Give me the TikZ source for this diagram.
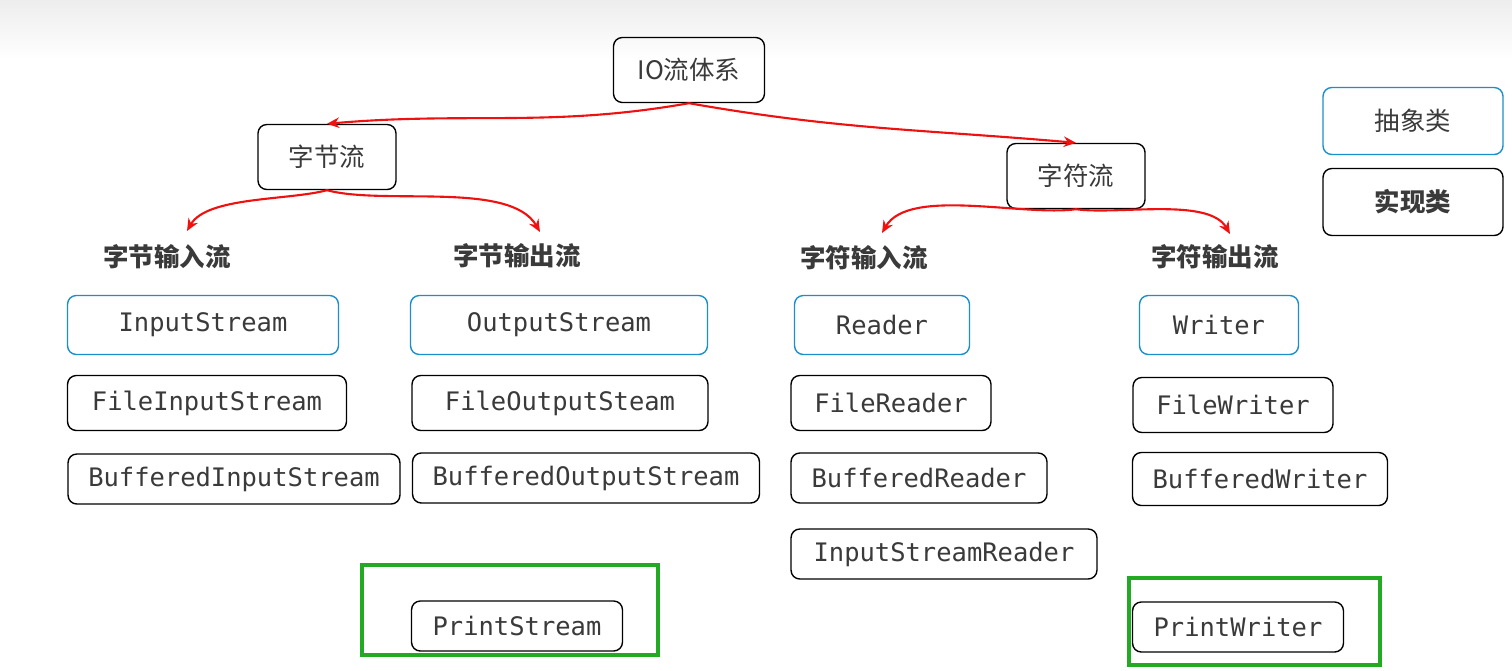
\documentclass[tikz,border=0pt]{standalone}
\usepackage{fontspec}
\setmainfont{Noto Sans CJK SC}
\setmonofont{DejaVu Sans Mono}
\usetikzlibrary{arrows.meta}
\definecolor{absblue}{HTML}{1A8FC9}
\definecolor{txtgray}{HTML}{3A3A3A}
\definecolor{arrred}{HTML}{F01010}
\definecolor{boxgreen}{HTML}{22AA22}
\tikzset{
  impl/.style={draw=black,thick,rounded corners=5pt,inner sep=0pt,text=txtgray,font=\ttfamily\fontsize{14.5}{16}\selectfont,minimum height=1.0cm},
  abs/.style={impl,draw=absblue,minimum height=1.18cm},
  head/.style={draw=black,thick,rounded corners=5pt,inner sep=0pt,text=txtgray,font=\fontsize{14.5}{16}\selectfont,minimum height=1.3cm},
  cat/.style={text=txtgray,font=\bfseries\fontsize{14.5}{16}\selectfont},
  redarr/.style={arrred,very thick,-{Stealth[length=7pt,width=6pt]}},
}
\begin{document}
\begin{tikzpicture}[x=0.02cm,y=-0.02cm]
  \useasboundingbox (0,0) rectangle (1512,670);
  \shade[top color=black!7,bottom color=white] (0,0) rectangle (1512,60);
  % top level
  \node[head,minimum width=3.02cm] (io) at (689,70) {IO流体系};
  \node[head,minimum width=2.76cm] (byte) at (327,157) {字节流};
  \node[head,minimum width=2.76cm] (char) at (1076,176) {字符流};
  % legend
  \node[head,draw=absblue,minimum width=3.6cm,minimum height=1.34cm] (legabs) at (1413,121) {抽象类};
  \node[head,minimum width=3.6cm,minimum height=1.34cm,font=\bfseries\fontsize{14.5}{16}\selectfont] (legimpl) at (1413,202) {实现类};
  % categories
  \node[cat] (bin) at (167,257) {字节输入流};
  \node[cat] (bout) at (517,256) {字节输出流};
  \node[cat] (cin) at (864,258) {字符输入流};
  \node[cat] (cout) at (1215,257) {字符输出流};
  \coordinate (binA) at (187,231);
  \coordinate (boutA) at (540,232);
  \coordinate (cinA) at (882,233);
  \coordinate (coutA) at (1230,234);
  % abstract classes
  \node[abs,minimum width=5.42cm] (is) at (203,325) {InputStream};
  \node[abs,minimum width=5.94cm] (os) at (559,325) {OutputStream};
  \node[abs,minimum width=3.5cm] (rd) at (882,325) {Reader};
  \node[abs,minimum width=3.18cm] (wr) at (1219,325) {Writer};
  % implementations
  \node[impl,minimum width=5.58cm,minimum height=1.1cm] (fis) at (207,403) {FileInputStream};
  \node[impl,minimum width=5.92cm,minimum height=1.1cm] (fos) at (560,403) {FileOutputSteam};
  \node[impl,minimum width=4.0cm,minimum height=1.1cm] (fr) at (891,403) {FileReader};
  \node[impl,minimum width=4.0cm,minimum height=1.1cm] (fw) at (1233,405) {FileWriter};
  \node[impl,minimum width=6.64cm] (bis) at (234,479) {BufferedInputStream};
  \node[impl,minimum width=6.94cm] (bos) at (586,478) {BufferedOutputStream};
  \node[impl,minimum width=5.12cm] (br) at (919,478) {BufferedReader};
  \node[impl,minimum width=5.1cm,minimum height=1.06cm] (bw) at (1260,479) {BufferedWriter};
  \node[impl,minimum width=6.12cm] (isr) at (944,554) {InputStreamReader};
  \node[impl,minimum width=4.22cm] (ps) at (517,626) {PrintStream};
  \node[impl,minimum width=4.22cm] (pw) at (1238,627) {PrintWriter};
  % highlight
  \draw[boxgreen,line width=2pt] (362,565) rectangle (658,655);
  \draw[boxgreen,line width=2pt] (1129,578) rectangle (1380,665);
  % arrows
  \draw[redarr] (io.south) to[out=190,in=5] (byte.north);
  \draw[redarr] (io.south) to[out=-10,in=175] (char.north);
  \draw[redarr] (byte.south) to[out=195,in=60,looseness=0.7] (binA);
  \draw[redarr] (byte.south) to[out=-15,in=120,looseness=0.7] (boutA);
  \draw[redarr] (char.south) to[out=188,in=60,looseness=0.7] (cinA);
  \draw[redarr] (char.south) to[out=-8,in=120,looseness=0.7] (coutA);
\end{tikzpicture}
\end{document}
